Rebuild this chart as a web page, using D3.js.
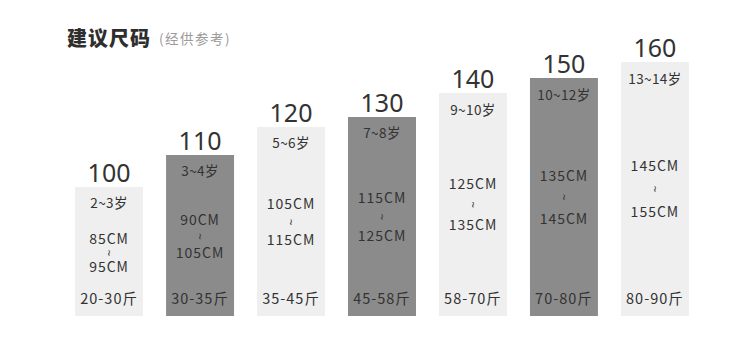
<!DOCTYPE html>
<html><head><meta charset="utf-8">
<script src="https://cdn.jsdelivr.net/npm/d3@7"></script>
<style>
html,body{margin:0;padding:0;background:#fff;}
svg{display:block;font-family:"Noto Sans CJK SC","Noto Sans",sans-serif;}
</style></head>
<body><svg id="c" width="750" height="362"></svg>
<script>
const sizes = ["100","110","120","130","140","150","160"];
const barValues = [129,161,189,199,223,238,254];
const ages = ["2~3岁","3~4岁","5~6岁","7~8岁","9~10岁","10~12岁","13~14岁"];
const heightFrom = ["85CM","90CM","105CM","115CM","125CM","135CM","145CM"];
const heightTo = ["95CM","105CM","115CM","125CM","135CM","145CM","155CM"];
const weights = ["20-30斤","30-35斤","35-45斤","45-58斤","58-70斤","70-80斤","80-90斤"];
const shades = ["light","dark","light","dark","light","dark","light"];
const title = "建议尺码";
const subtitle = "(经供参考)";

const svg = d3.select("#c");
const x = d3.scaleBand().domain(sizes).range([66, 698]).paddingInner(0.253).paddingOuter(0.1);
const baseY = 316;
const y = d3.scaleLinear().domain([0, 260]).range([baseY, baseY - 260]);
const fill = d3.scaleOrdinal().domain(["light","dark"]).range(["#efefef","#8b8b8b"]);

svg.append("text").attr("x", 67).attr("y", 46)
  .attr("font-size", 20).attr("font-weight", 900).attr("fill", "#2e2e2e")
  .attr("letter-spacing", 1).text(title);
svg.append("text").attr("x", 159).attr("y", 44)
  .attr("font-size", 13.5).attr("fill", "#9a9a9a").attr("letter-spacing", 1.5).text(subtitle);

const data = sizes.map((s,i)=>({s, v:barValues[i], age:ages[i], h1:heightFrom[i], h2:heightTo[i], w:weights[i], shade:shades[i]}));
const g = svg.selectAll("g.bar").data(data).join("g").attr("class","bar");

g.append("rect")
  .attr("x", d=>x(d.s)).attr("width", x.bandwidth())
  .attr("y", d=>y(d.v)).attr("height", d=>baseY - y(d.v))
  .attr("fill", d=>fill(d.shade));

const cx = d=>x(d.s) + x.bandwidth()/2;
const hh = d=> baseY - y(d.v);
g.append("text").attr("x", cx).attr("y", d=>y(d.v) - 5)
  .attr("text-anchor","middle").attr("font-family","'Noto Sans',sans-serif")
  .attr("font-size", 25).attr("fill","#333").text(d=>d.s);

g.append("text").attr("x", cx).attr("y", d=>y(d.v) + 19 + hh(d)*0.012)
  .attr("text-anchor","middle").attr("font-size", 13.5).attr("letter-spacing",0.4).attr("fill","#333").text(d=>d.age);

const midY = d=> y(d.v) + hh(d)*0.5 + 3 - hh(d)*0.012;
const gap = d=> 4.5 + hh(d)*0.072;
g.append("text").attr("x", cx).attr("y", d=>midY(d) - gap(d) + 5)
  .attr("text-anchor","middle").attr("font-size", 14).attr("letter-spacing",1).attr("fill","#333").text(d=>d.h1);
g.append("text")
  .attr("transform", d=>`translate(${cx(d)},${midY(d)}) rotate(90)`)
  .attr("text-anchor","middle").attr("dominant-baseline","central")
  .attr("font-family","'DejaVu Sans',sans-serif")
  .attr("font-size", 9).attr("fill","#333").text("~");
g.append("text").attr("x", cx).attr("y", d=>midY(d) + gap(d) + 5)
  .attr("text-anchor","middle").attr("font-size", 14).attr("letter-spacing",1).attr("fill","#333").text(d=>d.h2);

g.append("text").attr("x", cx).attr("y", baseY - 12)
  .attr("text-anchor","middle").attr("font-size", 14.5).attr("letter-spacing",1).attr("fill","#333").text(d=>d.w);
</script></body></html>
